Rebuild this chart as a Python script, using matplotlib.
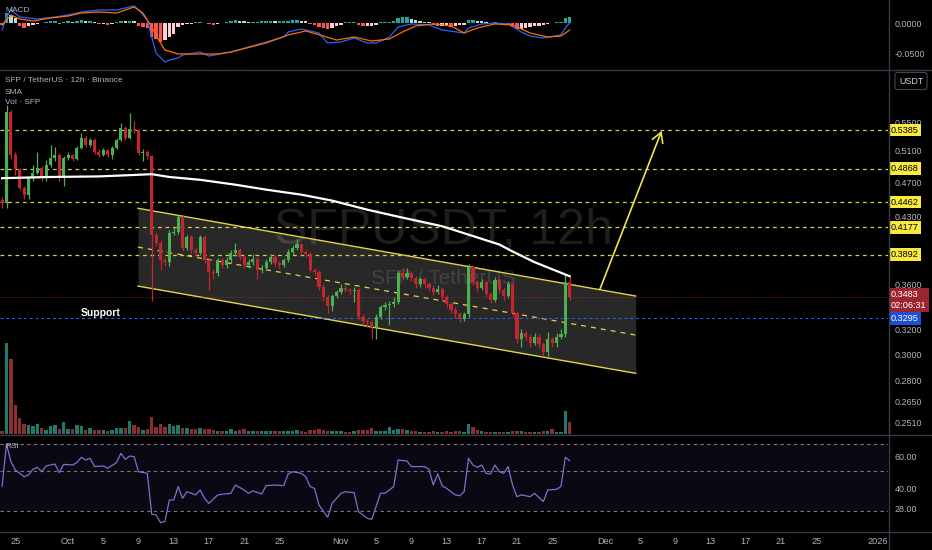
import numpy as np
import pandas as pd
import matplotlib
matplotlib.use("Agg")
import matplotlib.pyplot as plt
import matplotlib.dates as mdates
from matplotlib.lines import Line2D
from matplotlib.ticker import FixedLocator, NullLocator, FuncFormatter

plt.rcParams['font.family'] = ['Liberation Sans', 'DejaVu Sans']

# SFP / TetherUS, 12h candles (Binance), first candle opens 2025-09-23 12:00
first_time = '2025-09-23 12:00'
first_open = 0.449
close = [0.445, 0.565, 0.505, 0.486, 0.463, 0.455, 0.475, 0.482, 0.488, 0.475,
         0.492, 0.501, 0.505, 0.475, 0.501, 0.504, 0.500, 0.514, 0.528, 0.518,
         0.525, 0.509, 0.505, 0.511, 0.505, 0.514, 0.525, 0.542, 0.528, 0.540,
         0.538, 0.507, 0.509, 0.503, 0.410, 0.4015, 0.384, 0.382, 0.412, 0.413,
         0.429, 0.396, 0.407, 0.394, 0.391, 0.407, 0.384, 0.372, 0.371, 0.384,
         0.379, 0.384, 0.391, 0.394, 0.387, 0.379, 0.382, 0.385, 0.374, 0.376,
         0.382, 0.387, 0.381, 0.379, 0.384, 0.392, 0.396, 0.3995, 0.392, 0.390,
         0.374, 0.372, 0.358, 0.348, 0.340, 0.349, 0.353, 0.357, 0.355, 0.354,
         0.355, 0.331, 0.327, 0.326, 0.322, 0.331, 0.339, 0.341, 0.342, 0.344,
         0.371, 0.367, 0.371, 0.366, 0.360, 0.365, 0.360, 0.357, 0.353, 0.356,
         0.348, 0.342, 0.337, 0.333, 0.329, 0.333, 0.377, 0.362, 0.357, 0.362,
         0.351, 0.346, 0.364, 0.355, 0.349, 0.360, 0.334, 0.312, 0.317, 0.314,
         0.309, 0.314, 0.308, 0.302, 0.312, 0.309, 0.314, 0.316, 0.362, 0.3483]
high = [0.452, 0.575, 0.568, 0.508, 0.488, 0.466, 0.478, 0.492, 0.508, 0.490,
        0.498, 0.518, 0.515, 0.507, 0.503, 0.508, 0.506, 0.517, 0.535, 0.530,
        0.528, 0.527, 0.512, 0.514, 0.513, 0.516, 0.528, 0.548, 0.545, 0.563,
        0.552, 0.540, 0.512, 0.511, 0.505, 0.412, 0.404, 0.386, 0.415, 0.418,
        0.432, 0.431, 0.410, 0.409, 0.397, 0.409, 0.409, 0.386, 0.375, 0.386,
        0.386, 0.387, 0.394, 0.401, 0.396, 0.389, 0.385, 0.390, 0.387, 0.379,
        0.385, 0.390, 0.389, 0.383, 0.386, 0.395, 0.399, 0.405, 0.401, 0.394,
        0.392, 0.376, 0.374, 0.360, 0.350, 0.351, 0.355, 0.360, 0.359, 0.357,
        0.358, 0.357, 0.333, 0.329, 0.328, 0.333, 0.341, 0.344, 0.345, 0.348,
        0.374, 0.376, 0.376, 0.373, 0.368, 0.367, 0.367, 0.362, 0.359, 0.359,
        0.358, 0.350, 0.344, 0.339, 0.335, 0.335, 0.380, 0.379, 0.364, 0.365,
        0.364, 0.353, 0.367, 0.366, 0.357, 0.363, 0.362, 0.336, 0.320, 0.319,
        0.316, 0.317, 0.316, 0.310, 0.318, 0.314, 0.317, 0.320, 0.370, 0.367]
low = [0.440, 0.440, 0.500, 0.479, 0.460, 0.450, 0.450, 0.472, 0.480, 0.472,
       0.472, 0.489, 0.497, 0.472, 0.466, 0.498, 0.497, 0.498, 0.512, 0.515,
       0.515, 0.506, 0.502, 0.503, 0.502, 0.500, 0.512, 0.523, 0.525, 0.526,
       0.535, 0.504, 0.497, 0.499, 0.345, 0.398, 0.374, 0.378, 0.378, 0.409,
       0.411, 0.393, 0.394, 0.391, 0.388, 0.389, 0.381, 0.355, 0.365, 0.368,
       0.376, 0.376, 0.381, 0.388, 0.384, 0.376, 0.376, 0.379, 0.365, 0.371,
       0.374, 0.380, 0.378, 0.376, 0.377, 0.382, 0.390, 0.394, 0.389, 0.387,
       0.372, 0.369, 0.355, 0.345, 0.334, 0.336, 0.347, 0.351, 0.353, 0.351,
       0.344, 0.329, 0.324, 0.322, 0.312, 0.312, 0.329, 0.337, 0.324, 0.339,
       0.342, 0.364, 0.365, 0.363, 0.357, 0.358, 0.357, 0.354, 0.350, 0.351,
       0.345, 0.339, 0.334, 0.330, 0.326, 0.327, 0.331, 0.359, 0.354, 0.355,
       0.348, 0.343, 0.344, 0.352, 0.346, 0.347, 0.331, 0.309, 0.306, 0.311,
       0.306, 0.307, 0.305, 0.299, 0.299, 0.306, 0.306, 0.312, 0.314, 0.346]
# volume, millions of SFP
volume = [0.3, 9.2, 7.6, 2.9, 1.6, 1.0, 0.9, 0.8, 1.0, 0.6,
          0.45, 0.85, 0.95, 0.55, 1.2, 0.55, 0.5, 0.95, 0.8, 0.45,
          0.6, 0.4, 0.4, 0.4, 0.35, 0.4, 0.6, 0.6, 0.65, 1.3,
          0.9, 0.75, 0.45, 0.5, 1.7, 0.75, 1.0, 0.7, 1.0, 0.85,
          0.95, 0.6, 0.6, 0.5, 0.55, 0.6, 0.55, 0.55, 0.45, 0.35,
          0.3, 0.35, 0.5, 0.35, 0.4, 0.5, 0.35, 0.3, 0.35, 0.3,
          0.3, 0.35, 0.3, 0.3, 0.3, 0.3, 0.35, 0.4, 0.3, 0.25,
          0.45, 0.45, 0.5, 0.4, 0.35, 0.3, 0.3, 0.3, 0.25, 0.25,
          0.3, 0.4, 0.4, 0.4, 0.6, 0.35, 0.3, 0.35, 0.7, 0.4,
          0.55, 0.5, 0.45, 0.3, 0.3, 0.25, 0.25, 0.25, 0.3, 0.25,
          0.25, 0.3, 0.25, 0.3, 0.3, 0.25, 1.0, 0.7, 0.45, 0.3,
          0.25, 0.25, 0.25, 0.25, 0.2, 0.25, 0.35, 0.35, 0.3, 0.25,
          0.25, 0.2, 0.25, 0.35, 0.35, 0.5, 0.25, 0.25, 2.35, 1.25]

# SMA (candle index, value)
sma_idx = [0, 11, 22, 30, 34, 38, 45, 53, 60, 68, 75, 83, 90, 100, 102, 113, 116, 121, 129]
sma_val = [0.475, 0.4765, 0.4772, 0.479, 0.480, 0.4765, 0.473, 0.467, 0.461, 0.455,
           0.448, 0.4375, 0.4296, 0.419, 0.416, 0.3995, 0.3923, 0.3815, 0.3677]

# MACD pane
macd_idx = [0, 1, 2, 4, 8, 12, 15, 18, 22, 26, 30, 31, 33, 34, 35, 37, 38, 40, 41, 45,
            47, 52, 56, 60, 64, 65, 68, 72, 74, 77, 80, 83, 85, 88, 90, 93, 97, 100, 105,
            106, 109, 112, 115, 118, 120, 123, 127, 128, 129]
macd_val = [-0.011, 0.011, 0.0229, 0.011, 0.0076, 0.011, 0.0144, 0.0195, 0.0229, 0.0229,
            0.0297, 0.0229, 0.0059, -0.0229, -0.05, -0.0653, -0.0619, -0.0585, -0.0534, -0.0483,
            -0.0551, -0.0483, -0.0398, -0.0314, -0.0229, -0.0144, -0.0093, -0.0161, -0.0331, -0.0314,
            -0.0246, -0.0331, -0.0331, -0.0229, -0.0059, -0.0008, -0.0025, -0.011, -0.0161,
            -0.0076, -0.0008, 0.0008, -0.0008, -0.0144, -0.0212, -0.0246, -0.0195, -0.0076, 0.0008]
signal_idx = [0, 2, 4, 7, 11, 15, 18, 22, 26, 30, 32, 34, 36, 37, 40, 45, 49, 52, 60, 65,
              69, 73, 76, 80, 84, 88, 91, 94, 98, 102, 105, 108, 112, 116, 120, 124, 127, 129]
signal_val = [-0.0025, 0.0144, 0.0076, 0.0042, 0.0093, 0.0127, 0.0178, 0.0195, 0.0178, 0.028,
              0.0178, -0.0059, -0.0331, -0.0449, -0.0517, -0.0517, -0.0517, -0.0483, -0.0331, -0.0195,
              -0.0127, -0.0212, -0.028, -0.0229, -0.0297, -0.0263, -0.0144, -0.0042, -0.0008, -0.0042,
              -0.0161, -0.0076, -0.0008, -0.0025, -0.0161, -0.0229, -0.0212, -0.011]
macd_hist = [-0.002, 0.017, 0.014, 0.0085, -0.0045, -0.007, -0.0045, -0.003, -0.0015, 0.0005,
             0.002, 0.0034, 0.0034, -0.001, 0.0028, 0.0034, 0.0028, 0.004, 0.0057, 0.0045,
             0.0045, 0.0017, -0.0017, -0.0017, -0.0023, -0.0017, 0.0028, 0.0045, 0.004, 0.004,
             0.0034, -0.0045, -0.0057, -0.007, -0.0226, -0.0255, -0.031, -0.0283, -0.0226, -0.017,
             -0.0057, -0.0034, -0.0017, -0.001, 0.0017, 0.0028, 0.001, -0.001, -0.0034, -0.0017,
             0.001, 0.0023, 0.004, 0.0057, 0.0045, 0.004, 0.0028, 0.0028, 0.0028, 0.004,
             0.0045, 0.0045, 0.004, 0.004, 0.0045, 0.005, 0.0057, 0.0057, 0.0045, 0.0034,
             -0.0011, -0.0023, -0.0057, -0.0074, -0.009, -0.008, -0.0045, -0.0023, 0.0017, 0.0023,
             0.0023, -0.0034, -0.0045, -0.0045, -0.004, -0.0023, 0.0017, 0.0023, 0.0028, 0.004,
             0.0085, 0.0102, 0.0102, 0.0074, 0.0057, 0.004, 0.0028, 0.0017, -0.0028, -0.0045,
             -0.0045, -0.0045, -0.0051, -0.0045, -0.0034, -0.0023, 0.0057, 0.0057, 0.0045, 0.0034,
             0.0023, 0.0011, 0.0017, 0.0011, 0.0005, -0.0011, -0.0057, -0.009, -0.009, -0.008,
             -0.0057, -0.0045, -0.0045, -0.0034, -0.0017, 0.0011, 0.0017, 0.0023, 0.0085, 0.0113]

# RSI pane
rsi_idx = [0, 1, 2, 3, 5, 6, 7, 8, 9, 10, 12, 13, 14, 16, 17, 18, 19, 20, 21, 23,
           24, 26, 27, 28, 29, 30, 31, 33, 34, 35, 36, 37, 38, 39, 40, 41, 42, 43, 44, 45,
           46, 47, 49, 50, 52, 53, 55, 56, 57, 59, 60, 62, 64, 65, 66, 68, 69, 70, 71, 72,
           74, 75, 77, 78, 80, 81, 82, 83, 84, 86, 87, 89, 90, 92, 93, 94, 96, 97, 98, 99,
           100, 101, 103, 104, 105, 106, 107, 108, 109, 110, 111, 112, 113, 114, 115, 116, 117, 118, 120, 121,
           123, 124, 126, 127, 128, 129]
rsi_val = [41.9, 68.0, 57.1, 51.9, 47.7, 48.8, 52.3, 53.5, 50.8, 54.4,
           55.6, 50.2, 55.4, 55.0, 56.5, 59.8, 58.1, 59.2, 54.0, 54.4,
           53.0, 56.5, 62.3, 58.5, 60.6, 60.2, 50.8, 49.8, 24.2, 23.8,
           19.0, 19.6, 33.1, 33.1, 41.5, 34.2, 38.3, 37.3, 36.3, 39.4,
           34.2, 31.0, 36.3, 36.7, 37.3, 42.5, 39.4, 37.3, 38.8, 36.9,
           42.1, 42.5, 42.1, 49.4, 50.8, 49.8, 47.7, 41.5, 40.4, 30.0,
           22.3, 31.0, 37.3, 38.3, 37.7, 25.8, 23.8, 21.7, 21.0, 37.3,
           37.3, 41.5, 58.1, 57.5, 54.0, 54.0, 54.0, 52.3, 42.5, 49.4,
           42.1, 40.4, 36.3, 35.8, 38.3, 59.2, 55.0, 53.5, 55.0, 49.8,
           49.4, 55.0, 50.8, 49.8, 54.0, 42.5, 35.2, 36.3, 35.2, 37.3,
           32.1, 39.4, 39.8, 41.5, 59.8, 57.7]
rsi_bands = [68, 51, 26]

levels = [0.5385, 0.4868, 0.4462, 0.4177, 0.3892]
last_price = 0.3483
last_timer = '02:06:31'
support_price = 0.3295

price_ticks = [0.55, 0.51, 0.47, 0.43, 0.36, 0.32, 0.30, 0.28, 0.265, 0.251]
macd_ticks = [0.0, -0.05]
rsi_ticks = [60, 40, 28]

tick_dates = ['2025-09-25', '2025-10-01', '2025-10-05', '2025-10-09', '2025-10-13',
              '2025-10-17', '2025-10-21', '2025-10-25', '2025-11-01', '2025-11-05',
              '2025-11-09', '2025-11-13', '2025-11-17', '2025-11-21', '2025-11-25',
              '2025-12-01', '2025-12-05', '2025-12-09', '2025-12-13', '2025-12-17',
              '2025-12-21', '2025-12-25', '2026-01-01']
tick_labels = ['25', 'Oct', '5', '9', '13', '17', '21', '25', 'Nov', '5', '9', '13',
               '17', '21', '25', 'Dec', '5', '9', '13', '17', '21', '25', '2026']

# drawings on the chart (time, price)
chan_t = ['2025-10-08 22:30', '2025-12-04 12:00']
chan_upper = [0.4391, 0.3492]
chan_lower = [0.3584, 0.2854]
chan_mid = [0.3968, 0.3154]
arrow_from = ('2025-11-30 10:30', 0.3556)
arrow_to = ('2025-12-07 10:50', 0.5376)
support_at = ('2025-10-04 18:00', 0.334)

# ---------------------------------------------------------------
BG = '#000000'
TXT = '#b2b5be'
UP, DOWN = '#4caf50', '#c2272f'
VUP, VDOWN = '#1f7a6e', '#8e2d2d'
YEL = '#d2d24c'

times = pd.date_range(first_time, periods=len(close), freq='12h')
t = mdates.date2num(times.to_pydatetime())
close_a = np.array(close)
open_a = np.concatenate([[first_open], close_a[:-1]])
up = close_a >= open_a
cols = np.where(up, UP, DOWN)

x_left = mdates.date2num(pd.Timestamp('2025-09-23 06:15'))
x_right = mdates.date2num(pd.Timestamp('2026-01-02 04:00'))

fig = plt.figure(figsize=(9.32, 5.5), dpi=100, facecolor=BG)
W, H = 932.0, 550.0
pw = 888 / W
ax_macd = fig.add_axes([0, 1 - 69 / H, pw, 69 / H])
ax_main = fig.add_axes([0, 1 - 434 / H, pw, 364 / H])
ax_rsi = fig.add_axes([0, 1 - 531 / H, pw, 96 / H])
ax_vol = ax_main.twinx()
ax_main.set_zorder(ax_vol.get_zorder() + 1)
ax_main.patch.set_visible(False)

for a in (ax_macd, ax_main, ax_rsi, ax_vol):
    a.set_facecolor(BG)
    for s in a.spines.values():
        s.set_visible(False)
    a.set_xlim(x_left, x_right)
    a.tick_params(axis='both', length=0, colors=TXT, labelsize=6.4)
    a.xaxis.set_major_locator(NullLocator())

# ---- main pane ----
ax_main.set_yscale('log')
ax_main.set_ylim(0.2436, 0.630)
ax_main.yaxis.tick_right()
ax_main.yaxis.set_major_locator(FixedLocator(price_ticks))
ax_main.yaxis.set_minor_locator(NullLocator())
ax_main.yaxis.set_major_formatter(FuncFormatter(lambda v, p: f'{v:.4f}'))
ax_main.tick_params(axis='y', pad=5)

# volume overlay
ax_vol.set_ylim(0, 36.7)
ax_vol.set_yticks([])
ax_vol.bar(t, volume, width=0.38, color=np.where(up, VUP, VDOWN), zorder=1)

# watermark
ax_main.text(0.499, 0.56, 'SFPUSDT, 12h', transform=ax_main.transAxes, ha='center', va='center',
             fontsize=36, color='white', alpha=0.12, zorder=0)
ax_main.text(0.499, 0.426, 'SFP / TetherUS', transform=ax_main.transAxes, ha='center', va='center',
             fontsize=15, color='white', alpha=0.12, zorder=0)

# channel
ct = mdates.date2num(pd.to_datetime(chan_t).to_pydatetime())
ax_main.fill_between(ct, chan_lower, chan_upper, color='white', alpha=0.16, lw=0, zorder=0.5)
ax_main.plot(ct, chan_upper, color='#e3d44a', lw=1.0, zorder=1)
ax_main.plot(ct, chan_lower, color='#e3d44a', lw=1.0, zorder=1)
ax_main.plot(ct, chan_mid, color='#e3d44a', lw=0.9, ls=(0, (4, 4)), zorder=1)

# horizontal levels
for lv in levels:
    ax_main.axhline(lv, color=YEL, lw=0.9, ls=(0, (3, 3)), zorder=1)
ax_main.axhline(last_price, color='#b22833', lw=0.6, ls=(0, (1, 2)), zorder=1)
ax_main.axhline(support_price, color='#2962ff', lw=0.7, ls=(0, (3, 3)), zorder=1)

# candles
ax_main.vlines(t, low, high, colors=cols, lw=0.9, zorder=2)
body_lo = np.minimum(open_a, close_a)
body_h = np.maximum(np.abs(close_a - open_a), 0.0009)
ax_main.bar(t, body_h, bottom=body_lo, width=0.36, color=cols, zorder=3)

# SMA
ax_main.plot(t[sma_idx], sma_val, color='white', lw=1.6, zorder=4)

# target arrow
ax_main.annotate('', xy=(mdates.date2num(pd.Timestamp(arrow_to[0])), arrow_to[1]),
                 xytext=(mdates.date2num(pd.Timestamp(arrow_from[0])), arrow_from[1]),
                 arrowprops=dict(arrowstyle='->,head_length=0.7,head_width=0.4',
                                 color='#f3e54a', lw=1.2, shrinkA=0, shrinkB=0),
                 zorder=5)

ax_main.text(mdates.date2num(pd.Timestamp(support_at[0])), support_at[1], 'Support',
             color='white', fontsize=7.5, fontweight='bold', ha='center', va='center', zorder=5)

# right axis labels
lab_x = 891 / 888
for lv in levels:
    ax_main.text(lab_x, lv, f'{lv:.4f}', transform=ax_main.get_yaxis_transform(),
                 ha='left', va='center', fontsize=6.6, color='black', clip_on=False, zorder=6,
                 bbox=dict(boxstyle='square,pad=0.2', fc='#f9ea3c', ec='none'))
ax_main.annotate(f'{last_price:.4f}\n{last_timer}', xy=(lab_x, last_price),
                 xycoords=ax_main.get_yaxis_transform(), xytext=(0, 5), textcoords='offset points',
                 ha='left', va='top', fontsize=6.6, color='white', linespacing=1.25,
                 annotation_clip=False, zorder=6,
                 bbox=dict(boxstyle='square,pad=0.22', fc='#9c2430', ec='none'))
ax_main.text(lab_x, support_price, f'{support_price:.4f}', transform=ax_main.get_yaxis_transform(),
             ha='left', va='center', fontsize=6.6, color='white', clip_on=False, zorder=7,
             bbox=dict(boxstyle='square,pad=0.2', fc='#1e4fd6', ec='none'))

# ---- MACD pane ----
ax_macd.set_ylim(-0.0771, 0.0398)
ax_macd.yaxis.tick_right()
ax_macd.set_yticks(macd_ticks)
ax_macd.yaxis.set_major_formatter(FuncFormatter(lambda v, p: f'{v:.4f}'))
ax_macd.tick_params(axis='y', pad=5)
hist_cols = []
prev = 0.0
for h in macd_hist:
    if h >= 0:
        hist_cols.append('#26a69a' if h >= prev else '#b2dfdb')
    else:
        hist_cols.append('#ff5252' if h < prev else '#ffcdd2')
    prev = h
ax_macd.bar(t, macd_hist, width=0.4, color=hist_cols, zorder=1)
ax_macd.plot(t[macd_idx], macd_val, color='#2962ff', lw=0.9, zorder=2)
ax_macd.plot(t[signal_idx], signal_val, color='#ff6d00', lw=0.9, zorder=2)

# ---- RSI pane ----
ax_rsi.set_ylim(13.75, 73.75)
ax_rsi.yaxis.tick_right()
ax_rsi.set_yticks(rsi_ticks)
ax_rsi.yaxis.set_major_formatter(FuncFormatter(lambda v, p: f'{v:.2f}'))
ax_rsi.tick_params(axis='y', pad=5)
ax_rsi.axhspan(rsi_bands[2], rsi_bands[0], color='#7e57c2', alpha=0.1, lw=0)
for b in rsi_bands:
    ax_rsi.axhline(b, color='#787b86', lw=0.8, ls=(0, (3, 3)))
ax_rsi.plot(t[rsi_idx], rsi_val, color='#7e6fd0', lw=0.9)

ax_rsi.xaxis.set_major_locator(FixedLocator(mdates.date2num(pd.to_datetime(tick_dates).to_pydatetime())))
ax_rsi.set_xticklabels(tick_labels)
ax_rsi.tick_params(axis='x', pad=4, labelsize=6.6)

# ---- frame: separators and legend texts ----
for yy in (69.5, 434.5, 531.5):
    fig.add_artist(Line2D([0, 1], [1 - yy / H, 1 - yy / H], color='#363a45', lw=1))
fig.add_artist(Line2D([888.5 / W, 888.5 / W], [0, 1], color='#363a45', lw=1))

fig.text(5 / W, 1 - 10 / H, 'MACD', color=TXT, fontsize=6, va='center')
fig.text(5 / W, 1 - 81 / H, 'SFP / TetherUS · 12h · Binance', color=TXT, fontsize=6, va='center')
fig.text(5 / W, 1 - 92 / H, 'SMA', color=TXT, fontsize=6, va='center')
fig.text(5 / W, 1 - 103 / H, 'Vol · SFP', color=TXT, fontsize=6, va='center')
fig.text(5 / W, 1 - 446 / H, 'RSI', color=TXT, fontsize=6, va='center')
fig.text(911 / W, 1 - 81 / H, 'USDT', color='#d1d4dc', fontsize=6.4, ha='center', va='center',
         bbox=dict(boxstyle='round,pad=0.45,rounding_size=0.3', fc=BG, ec='#434651', lw=0.8))

fig.savefig('out.png', dpi=100, facecolor=BG)
